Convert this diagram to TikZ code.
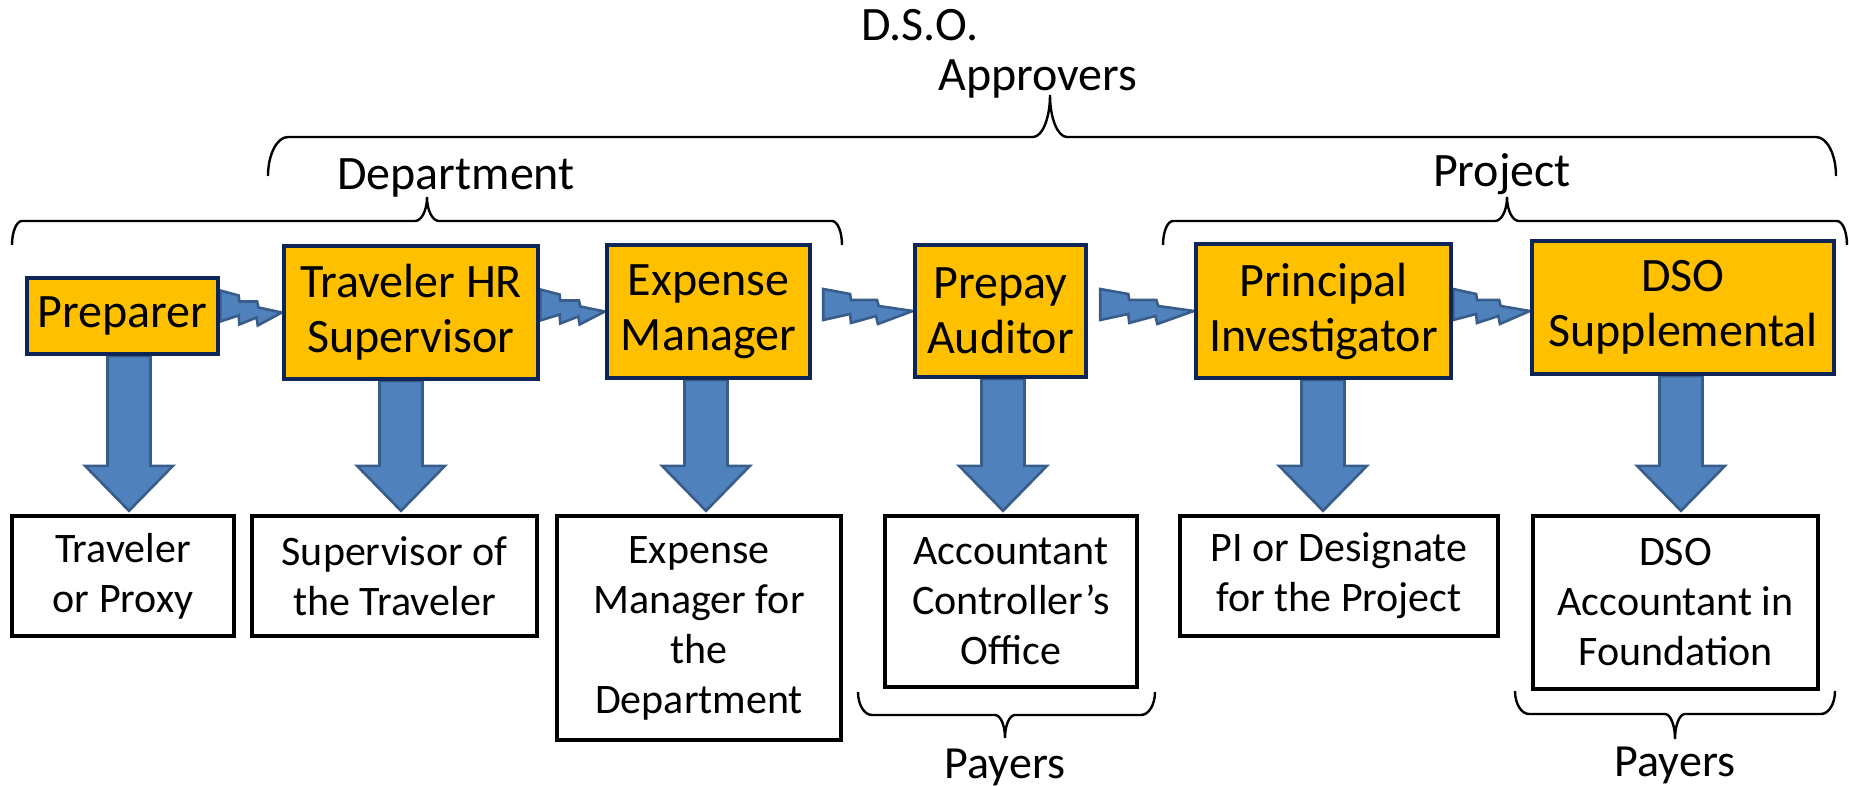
\documentclass[tikz,border=0pt]{standalone}
\usepackage{fontspec}
\setmainfont{Carlito}
\usetikzlibrary{calc}
\definecolor{boxgold}{HTML}{FFC000}
\definecolor{boxnavy}{HTML}{0E2558}
\definecolor{flowblue}{HTML}{4F81BD}
\definecolor{flowedge}{HTML}{385D8A}
\pgfdeclarelayer{back}
\pgfsetlayers{back,main}

\tikzset{
  approver/.style={draw=boxnavy, fill=boxgold, line width=2.2pt, inner sep=0pt,
    align=center, font=\fontsize{24}{27.5}\selectfont},
  payer/.style={draw=black, fill=white, line width=2.2pt, inner sep=0pt,
    align=center, font=\fontsize{21}{25}\selectfont},
  grouplabel/.style={inner sep=0pt, anchor=base, font=\fontsize{24}{28}\selectfont},
  payerlabel/.style={inner sep=0pt, anchor=base, font=\fontsize{23}{26}\selectfont},
  flow/.style={fill=flowblue, draw=flowedge, line width=1.3pt, line join=miter},
  bracket/.style={draw=black, line width=1.2pt},
}

% broad downward arrow at the x of coordinate #1, from node #2 to node #3
\newcommand\flowdown[3]{%
  \path (#2.south -| #1) coordinate (fdA) (#3.north -| #1) coordinate (fdB);
  \filldraw[flow] ($(fdA)+(-21.5,0)$) -- ($(fdA)+(21.5,0)$) -- ($(fdB)+(21.5,-48)$)
    -- ($(fdB)+(44,-48)$) -- ($(fdB)+(0,-3)$) -- ($(fdB)+(-44,-48)$)
    -- ($(fdB)+(-21.5,-48)$) -- cycle;}

% stepped (lightning) arrow from coordinate #1 to point #2
\newcommand\flowright[2]{%
  \filldraw[flow] ($(#1)+(0,-22)$) -- ($(#1)!0.3!(#2)+(0,-17)$)
    -- ($(#1)!0.31!(#2)+(0,-11)$) -- ($(#1)!0.6!(#2)+(0,-11)$)
    -- ($(#1)!0.62!(#2)+(0,-5)$) -- (#2) -- ($(#1)!0.61!(#2)+(0,13)$)
    -- ($(#1)!0.59!(#2)+(0,5)$) -- ($(#1)!0.31!(#2)+(0,12)$)
    -- ($(#1)!0.3!(#2)+(0,3)$) -- ($(#1)+(0,9)$) -- cycle;}

% horizontal brace: xL, xR, end y, line y, tip x, tip y, end width, cusp width
\newcommand\hbrace[8]{%
  \draw[bracket] (#1,#3) .. controls (#1,{#3+0.552*(#4-#3)}) and ({#1+0.448*#7},#4) .. ({#1+#7},#4)
    -- ({#5-#8},#4) .. controls ({#5-0.448*#8},#4) and (#5,{#6+0.552*(#4-#6)}) .. (#5,#6)
    .. controls (#5,{#6+0.552*(#4-#6)}) and ({#5+0.448*#8},#4) .. ({#5+#8},#4)
    -- ({#2-#7},#4) .. controls ({#2-0.448*#7},#4) and (#2,{#3+0.552*(#4-#3)}) .. (#2,#3);}

\begin{document}
\begin{tikzpicture}[x=0.5pt,y=-0.5pt]
\useasboundingbox (0,0) rectangle (1849,786);

% approvers row
\node[approver, minimum width=95.5pt, minimum height=38pt] (prep) at (122.5,316) {Preparer};
\node[approver, minimum width=127pt, minimum height=66.5pt] (trav) at (411,312.5) {Traveler HR\\Supervisor};
\node[approver, minimum width=101.5pt, minimum height=66.5pt] (expm) at (708.5,311.5) {Expense\\Manager};
\node[approver, minimum width=85.5pt, minimum height=66pt] (prepay) at (1000.5,311) {Prepay\\Auditor};
\node[approver, minimum width=127.5pt, minimum height=67pt] (pinv) at (1323.5,311) {Principal\\Investigator};
\node[approver, minimum width=151pt, minimum height=66.5pt] (dsos) at (1683,307.5) {DSO\\Supplemental};

% people behind each role
\node[payer, minimum width=111pt, minimum height=60pt] (tp) at (123,576) {Traveler\\or Proxy};
\node[payer, minimum width=142.5pt, minimum height=60pt] (sot) at (394.5,576) {Supervisor of\\the Traveler};
\node[payer, minimum width=142pt, minimum height=112pt] (emd) at (699,628) {Expense\\Manager for\\the\\Department};
\node[payer, minimum width=126pt, minimum height=85.5pt] (acc) at (1011,601.5) {Accountant\\Controller’s\\Office};
\node[payer, minimum width=159pt, minimum height=60pt] (pid) at (1339,576) {PI or Designate\\for the Project};
\node[payer, minimum width=142.5pt, minimum height=86.5pt] (dsoa) at (1675.5,602.5) {DSO\\Accountant in\\Foundation};

% group labels
\node[grouplabel] (dso) at (920,41) {D.S.O.};
\node[grouplabel] (appr) at (1038,91) {Approvers};
\node[grouplabel] (dept) at (456,190) {Department};
\node[grouplabel] (proj) at (1502,187) {Project};
\node[payerlabel] (pay1) at (1005,778) {Payers};
\node[payerlabel] (pay2) at (1675,776) {Payers};

% braces
\hbrace{268}{1836}{176}{137}{1050}{95}{20}{17}
\hbrace{12}{842}{245}{221}{427}{197}{10}{12}
\hbrace{1163}{1847}{245}{221}{1507}{197}{10}{12}
\hbrace{858}{1155}{692}{715}{1005}{738}{14}{10}
\hbrace{1515}{1835}{691}{714}{1675}{739}{14}{10}

% arrow positions
\coordinate (a1) at (129,0);
\coordinate (a2) at (401,0);
\coordinate (a3) at (706,0);
\coordinate (a4) at (1003,0);
\coordinate (a5) at (1323,0);
\coordinate (a6) at (1681,0);
\coordinate (s1) at (prep.east |- trav.west);
\coordinate (s2) at (trav.east |- expm.west);
\coordinate (s3) at ($(expm.east |- prepay.west)+(11,0)$);
\coordinate (s4) at ($(prepay.east |- pinv.west)+(12,0)$);
\coordinate (s5) at (pinv.east);
\coordinate (t5) at (dsos.west |- pinv.east);

\begin{pgfonlayer}{back}
  \flowright{s1}{trav.west}
  \flowright{s2}{expm.west}
  \flowright{s3}{prepay.west}
  \flowright{s4}{pinv.west}
  \flowright{s5}{t5}
  \flowdown{a1}{prep}{tp}
  \flowdown{a2}{trav}{sot}
  \flowdown{a3}{expm}{emd}
  \flowdown{a4}{prepay}{acc}
  \flowdown{a5}{pinv}{pid}
  \flowdown{a6}{dsos}{dsoa}
\end{pgfonlayer}
\end{tikzpicture}
\end{document}
